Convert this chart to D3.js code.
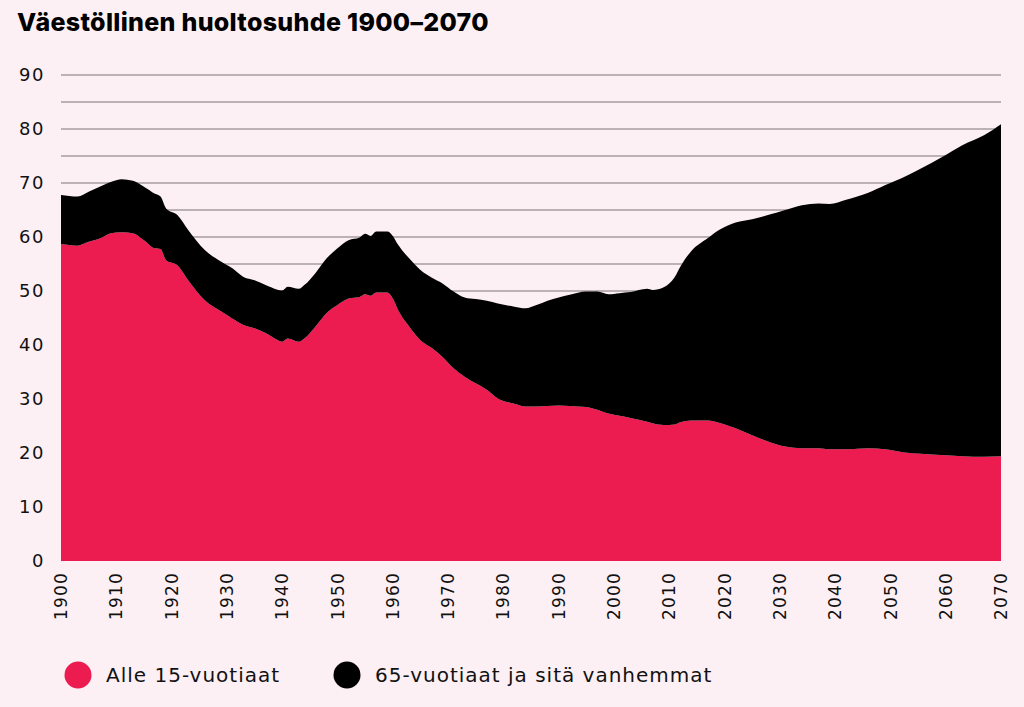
<!DOCTYPE html>
<html>
<head>
<meta charset="utf-8">
<script src="https://cdn.jsdelivr.net/npm/d3@7"></script>
<style>
  html, body { margin: 0; padding: 0; background: #fcf0f4; }
  svg { display: block; }
</style>
</head>
<body>
<div id="app"></div>
<script>
// data (per 100 persons of working age)
const years = [1900, 1903, 1905, 1907, 1909, 1911, 1913, 1915, 1917, 1918, 1919, 1921, 1923, 1926, 1929, 1931, 1933, 1935, 1937, 1939,
  1940, 1941, 1943, 1944, 1946, 1948, 1950, 1952, 1954, 1955, 1956, 1957, 1959, 1960, 1961, 1963, 1965, 1967, 1969, 1971,
  1973, 1975, 1977, 1979, 1982, 1984, 1986, 1988, 1990, 1992, 1995, 1997, 1999, 2001, 2003, 2006, 2007, 2009, 2011, 2012,
  2014, 2017, 2019, 2022, 2025, 2028, 2031, 2034, 2037, 2039, 2042, 2046, 2049, 2052, 2055, 2060, 2063, 2067, 2070];

const under15 = [58.7, 58.4, 59.1, 59.7, 60.7, 60.9, 60.7, 59.4, 57.9, 57.8, 55.7, 54.8, 52.0, 48.3, 46.2, 44.9, 43.7, 43.1, 42.2, 41.0,
  40.6, 41.2, 40.6, 41.2, 43.4, 45.9, 47.4, 48.6, 48.9, 49.4, 49.1, 49.7, 49.7, 48.6, 46.4, 43.4, 40.9, 39.5, 37.8, 35.7,
  34.1, 32.9, 31.7, 30.1, 29.1, 28.6, 28.6, 28.7, 28.8, 28.7, 28.5, 28.0, 27.3, 26.9, 26.5, 25.8, 25.5, 25.2, 25.3, 25.7,
  26.0, 26.0, 25.6, 24.6, 23.3, 22.1, 21.2, 20.9, 20.9, 20.7, 20.7, 20.9, 20.7, 20.2, 19.9, 19.6, 19.4, 19.3, 19.4];

const over65 = [9.1, 9.1, 9.3, 9.6, 9.5, 9.8, 9.7, 9.9, 10.1, 9.7, 9.6, 9.3, 9.3, 9.3, 9.2, 9.3, 8.9, 8.9, 8.9, 9.3,
  9.5, 9.6, 9.8, 9.9, 9.9, 10.1, 10.5, 10.8, 11.0, 11.2, 11.1, 11.3, 11.3, 11.6, 12.1, 12.6, 13.0, 13.0, 13.6, 14.2,
  14.7, 15.6, 16.5, 17.6, 18.0, 18.2, 18.8, 19.5, 20.0, 20.6, 21.4, 21.9, 22.1, 22.7, 23.3, 24.6, 24.7, 25.5, 27.3, 28.8,
  31.4, 33.8, 35.7, 38.1, 40.0, 42.0, 43.8, 45.0, 45.3, 45.4, 46.2, 47.3, 48.9, 50.7, 52.5, 55.6, 57.6, 59.6, 61.5];

const seriesNames = ['Alle 15-vuotiaat', '65-vuotiaat ja sitä vanhemmat'];
const seriesColors = ['#ec1b50', '#000000'];
const yTicks = [0, 10, 20, 30, 40, 50, 60, 70, 80, 90];
const gridValues = d3.range(5, 95, 5);
const xTicks = d3.range(1900, 2071, 10);

const w = 1024;
const h = 707;

const svg = d3.select('#app').append('svg')
  .attr('width', w)
  .attr('height', h)
  .style('background', '#fcf0f4');

const x = d3.scaleLinear().domain([1900, 2070]).range([61, 1001]);
const y = d3.scaleLinear().domain([0, 90]).range([561, 75]);

// title
svg.append('text')
  .attr('x', 17)
  .attr('y', 31)
  .attr('font-family', 'Inter')
  .attr('font-weight', 800)
  .attr('font-size', 25)
  .attr('letter-spacing', 0.3)
  .attr('fill', '#000')
  .text('Väestöllinen huoltosuhde 1900–2070');

// gridlines
svg.append('g')
  .selectAll('line')
  .data(gridValues)
  .join('line')
  .attr('x1', x(1900))
  .attr('x2', x(2070))
  .attr('y1', d => y(d))
  .attr('y2', d => y(d))
  .attr('stroke', '#7d7579')
  .attr('stroke-width', 1.2);

// stacked areas
const table = years.map((yr, i) => ({ year: yr, a: under15[i], b: over65[i] }));
const stacked = d3.stack().keys(['a', 'b'])(table);

const area = d3.area()
  .curve(d3.curveMonotoneX)
  .x(d => x(d.data.year))
  .y0(d => y(d[0]))
  .y1(d => y(d[1]));

svg.append('g')
  .selectAll('path')
  .data(stacked)
  .join('path')
  .attr('fill', (d, i) => seriesColors[i])
  .attr('d', area);

// y axis labels
svg.append('g')
  .selectAll('text')
  .data(yTicks)
  .join('text')
  .attr('x', 45)
  .attr('y', d => y(d))
  .attr('dy', '0.36em')
  .attr('text-anchor', 'end')
  .attr('font-family', 'DejaVu Sans')
  .attr('font-size', 18)
  .attr('letter-spacing', 1.5)
  .attr('fill', '#111')
  .text(d => d);

// x axis labels, rotated
svg.append('g')
  .selectAll('text')
  .data(xTicks)
  .join('text')
  .attr('transform', d => `translate(${x(d)},572) rotate(-90)`)
  .attr('dy', '0.36em')
  .attr('text-anchor', 'end')
  .attr('font-family', 'DejaVu Sans')
  .attr('font-size', 17)
  .attr('letter-spacing', 1.2)
  .attr('fill', '#111')
  .text(d => d);

// legend
const legendX = [78, 347];
const legend = svg.append('g')
  .selectAll('g')
  .data(seriesNames)
  .join('g')
  .attr('transform', (d, i) => `translate(${legendX[i]},675)`);

legend.append('circle')
  .attr('r', 13.5)
  .attr('fill', (d, i) => seriesColors[i]);

legend.append('text')
  .attr('x', 28)
  .attr('dy', '0.36em')
  .attr('font-family', 'DejaVu Sans')
  .attr('font-size', 20)
  .attr('letter-spacing', 1)
  .attr('fill', '#111')
  .text(d => d);
</script>
</body>
</html>
